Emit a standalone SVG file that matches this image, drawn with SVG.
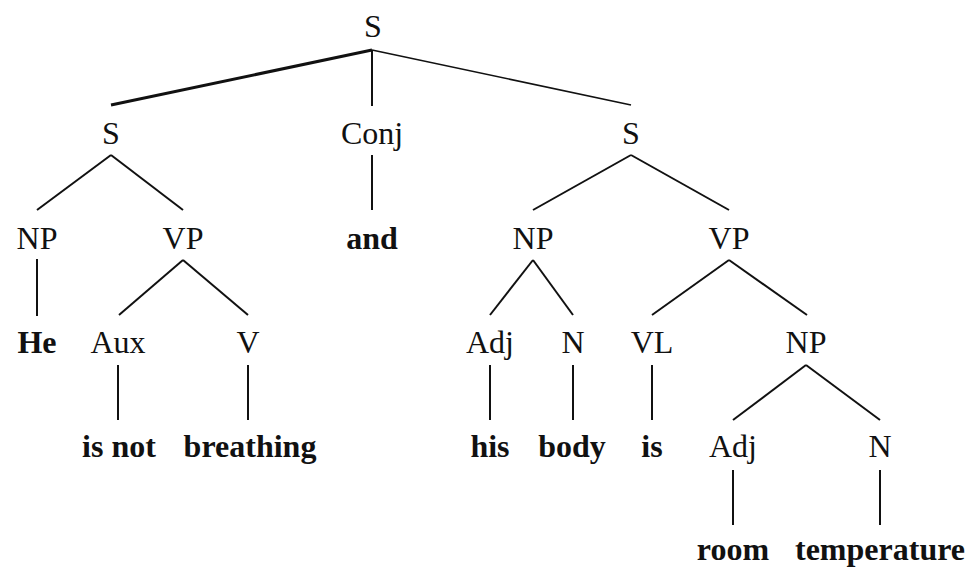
<svg xmlns="http://www.w3.org/2000/svg" width="973" height="567" viewBox="0 0 973 567">
<style>
.t{font-size:32px;fill:#111;text-anchor:middle}
.w{font-weight:bold}
.e{stroke:#111;stroke-width:2;fill:none}
</style>
<rect width="973" height="567" fill="#fff"/>
<g id="edges">
<line class="e" x1="372" y1="50" x2="111" y2="105" style="stroke-width:3"/>
<line class="e" x1="372" y1="50" x2="372" y2="106"/>
<line class="e" x1="372" y1="50" x2="631" y2="105" style="stroke-width:1.6"/>
<line class="e" x1="111" y1="155" x2="37" y2="210"/>
<line class="e" x1="111" y1="155" x2="183" y2="210"/>
<line class="e" x1="372" y1="155" x2="372" y2="210"/>
<line class="e" x1="631" y1="155" x2="533" y2="210"/>
<line class="e" x1="631" y1="155" x2="729" y2="210"/>
<line class="e" x1="37" y1="259" x2="37" y2="316"/>
<line class="e" x1="183" y1="260" x2="119" y2="315"/>
<line class="e" x1="183" y1="260" x2="248" y2="315"/>
<line class="e" x1="533" y1="260" x2="490" y2="315"/>
<line class="e" x1="533" y1="260" x2="573" y2="315"/>
<line class="e" x1="729" y1="260" x2="652" y2="315"/>
<line class="e" x1="729" y1="260" x2="807" y2="315"/>
<line class="e" x1="118" y1="365" x2="118" y2="420"/>
<line class="e" x1="248" y1="365" x2="248" y2="420"/>
<line class="e" x1="490" y1="365" x2="490" y2="420"/>
<line class="e" x1="573" y1="365" x2="573" y2="420"/>
<line class="e" x1="652" y1="365" x2="652" y2="420"/>
<line class="e" x1="806" y1="365" x2="733" y2="420"/>
<line class="e" x1="806" y1="365" x2="880" y2="420"/>
<line class="e" x1="733" y1="470" x2="733" y2="525"/>
<line class="e" x1="880" y1="470" x2="880" y2="525"/>
</g>
<g id="n-S-root"><text class="t" font-family="Liberation Serif" x="373" y="37">S</text></g>
<g id="n-S-left"><text class="t" font-family="Liberation Serif" x="111" y="144">S</text></g>
<g id="n-Conj"><text class="t" font-family="Liberation Serif" x="372" y="144">Conj</text></g>
<g id="n-S-right"><text class="t" font-family="Liberation Serif" x="631" y="144">S</text></g>
<g id="n-NP1"><text class="t" font-family="Liberation Serif" x="37" y="249">NP</text></g>
<g id="n-VP1"><text class="t" font-family="Liberation Serif" x="183" y="249">VP</text></g>
<g id="n-and"><text class="t w" font-family="Liberation Serif" x="372" y="249">and</text></g>
<g id="n-NP2"><text class="t" font-family="Liberation Serif" x="533" y="249">NP</text></g>
<g id="n-VP2"><text class="t" font-family="Liberation Serif" x="729" y="249">VP</text></g>
<g id="n-He"><text class="t w" font-family="Liberation Serif" x="37" y="353">He</text></g>
<g id="n-Aux"><text class="t" font-family="Liberation Serif" x="118" y="353">Aux</text></g>
<g id="n-V"><text class="t" font-family="Liberation Serif" x="248" y="353">V</text></g>
<g id="n-Adj1"><text class="t" font-family="Liberation Serif" x="490" y="353">Adj</text></g>
<g id="n-N1"><text class="t" font-family="Liberation Serif" x="573" y="353">N</text></g>
<g id="n-VL"><text class="t" font-family="Liberation Serif" x="652" y="353">VL</text></g>
<g id="n-NP3"><text class="t" font-family="Liberation Serif" x="806" y="353">NP</text></g>
<g id="n-isnot"><text class="t w" font-family="Liberation Serif" x="119" y="457">is not</text></g>
<g id="n-breathing"><text class="t w" font-family="Liberation Serif" x="250" y="457">breathing</text></g>
<g id="n-his"><text class="t w" font-family="Liberation Serif" x="490" y="457">his</text></g>
<g id="n-body"><text class="t w" font-family="Liberation Serif" x="572" y="457">body</text></g>
<g id="n-is"><text class="t w" font-family="Liberation Serif" x="652" y="457">is</text></g>
<g id="n-Adj2"><text class="t" font-family="Liberation Serif" x="733" y="457">Adj</text></g>
<g id="n-N2"><text class="t" font-family="Liberation Serif" x="880" y="457">N</text></g>
<g id="n-room"><text class="t w" font-family="Liberation Serif" x="733" y="560">room</text></g>
<g id="n-temperature"><text class="t w" font-family="Liberation Serif" x="880" y="560">temperature</text></g>
</svg>
